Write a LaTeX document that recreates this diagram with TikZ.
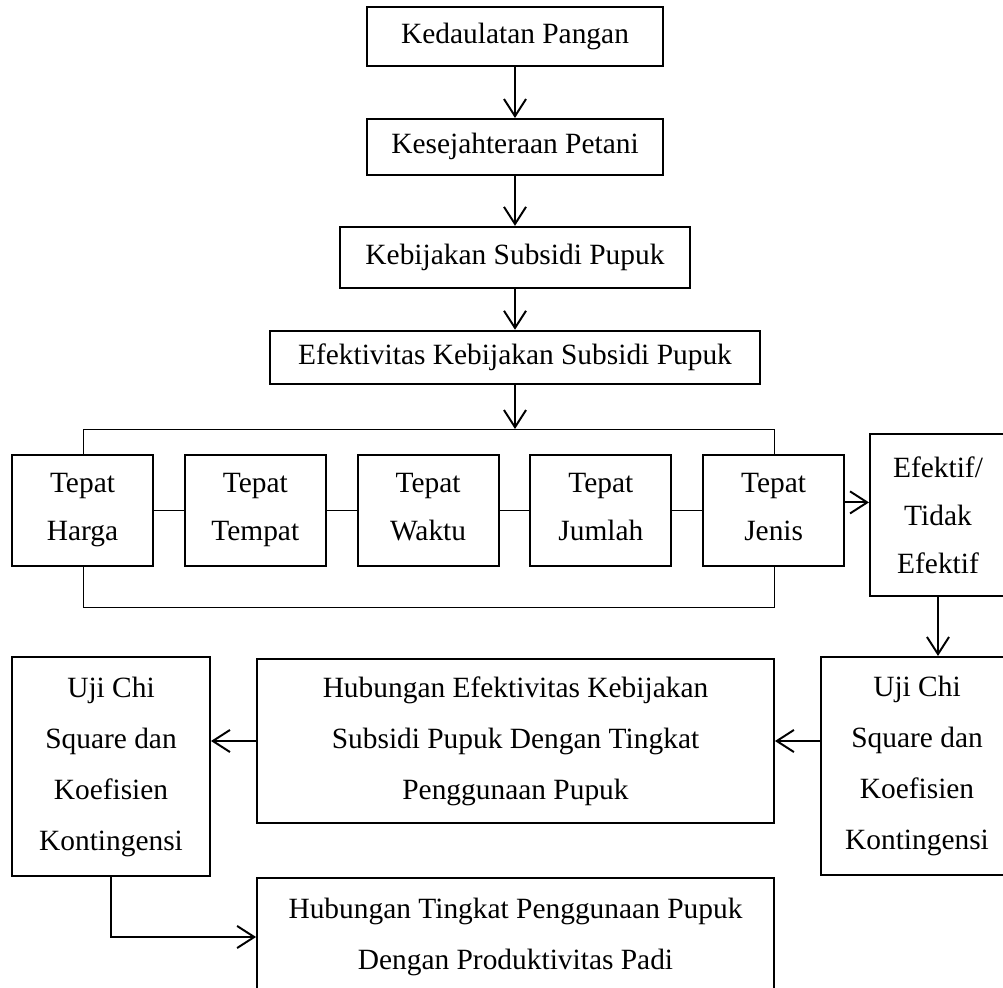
\documentclass[tikz,border=0pt]{standalone}
\usepackage{fontspec}
\setmainfont{Liberation Serif}
\usetikzlibrary{arrows.meta,positioning}

\begin{document}
\begin{tikzpicture}[
    x=0.408pt, y=-0.408pt,
    node distance=20.8pt,
    box/.style={rectangle, draw=black, line width=0.8pt, fill=white, text centered, align=center, inner sep=0pt, font=\fontsize{12pt}{20.8pt}\selectfont},
    tepat/.style={box, minimum width=57.5pt, minimum height=45.3pt, font=\fontsize{12pt}{19.6pt}\selectfont, execute at end node={\vphantom{g}}},
    uji/.style={box, minimum height=89pt},
    arrow/.style={-{Straight Barb[length=7pt,width=9pt]}, line width=0.8pt},
    link/.style={line width=0.4pt}
]
    \useasboundingbox (0,0) rectangle (1003,988);
    \clip (0,0) rectangle (1003,988);

    % alur atas
    \node[box, minimum width=120.8pt, minimum height=24.1pt] (kedaulatan) at (515,36.5) {Kedaulatan Pangan};
    \node[box, minimum width=120.8pt, minimum height=22.8pt, below=20.8pt of kedaulatan] (sejahtera) {Kesejahteraan Petani};
    \node[box, minimum width=142.8pt, minimum height=24.9pt, below=20.4pt of sejahtera] (subsidi) {Kebijakan Subsidi Pupuk};
    \node[box, minimum width=200.3pt, minimum height=21.6pt, below=16.7pt of subsidi] (efektivitas) {Efektivitas Kebijakan Subsidi Pupuk};

    % indikator efektivitas
    \draw[link] (83,429) rectangle (774,607);
    \coordinate (bartop) at (515,429);
    \node[tepat] (harga) at (82.5,510.5) {Tepat\\Harga};
    \node[tepat, right=12.2pt of harga] (tempat) {Tepat\\Tempat};
    \node[tepat, right=12.2pt of tempat] (waktu) {Tepat\\Waktu};
    \node[tepat, right=12.2pt of waktu] (jumlah) {Tepat\\Jumlah};
    \node[tepat, right=12.2pt of jumlah] (jenis) {Tepat\\Jenis};
    \node[box, minimum width=55.5pt, minimum height=66.1pt, font=\fontsize{12pt}{19.6pt}\selectfont] (hasil) at (938,515) {Efektif/\\Tidak\\Efektif};

    % analisis
    \node[uji, minimum width=78.3pt] (ujikanan) at (917,766) {Uji Chi\\Square dan\\Koefisien\\Kontingensi};
    \node[box, minimum width=210.9pt, minimum height=66.9pt] (hubEfektif) at (515.5,741) {Hubungan Efektivitas Kebijakan\\Subsidi Pupuk Dengan Tingkat\\Penggunaan Pupuk};
    \node[uji, minimum width=80.8pt] (ujikiri) at (111,766.5) {Uji Chi\\Square dan\\Koefisien\\Kontingensi};
    \node[box, minimum width=210.9pt, minimum height=48.1pt] (hubProduksi) at (515.5,937) {Hubungan Tingkat Penggunaan Pupuk\\Dengan Produktivitas Padi};

    % panah
    \draw[arrow] (kedaulatan) -- (sejahtera);
    \draw[arrow] (sejahtera) -- (subsidi);
    \draw[arrow] (subsidi) -- (efektivitas);
    \draw[arrow] (efektivitas) -- (bartop);
    \draw[link] (harga) -- (tempat);
    \draw[link] (tempat) -- (waktu);
    \draw[link] (waktu) -- (jumlah);
    \draw[link] (jumlah) -- (jenis);
    \coordinate (jenisout) at ([yshift=3.3pt]jenis.east);
    \draw[arrow] (jenisout) -- (jenisout -| hasil.west);
    \draw[arrow] (hasil) -- (hasil |- ujikanan.north);
    \draw[arrow] (hubEfektif.east -| ujikanan.west) -- (hubEfektif.east);
    \draw[arrow] (hubEfektif.west) -- (hubEfektif.west -| ujikiri.east);
    \draw[arrow] (ujikiri.south) |- (hubProduksi.west);
\end{tikzpicture}
\end{document}
